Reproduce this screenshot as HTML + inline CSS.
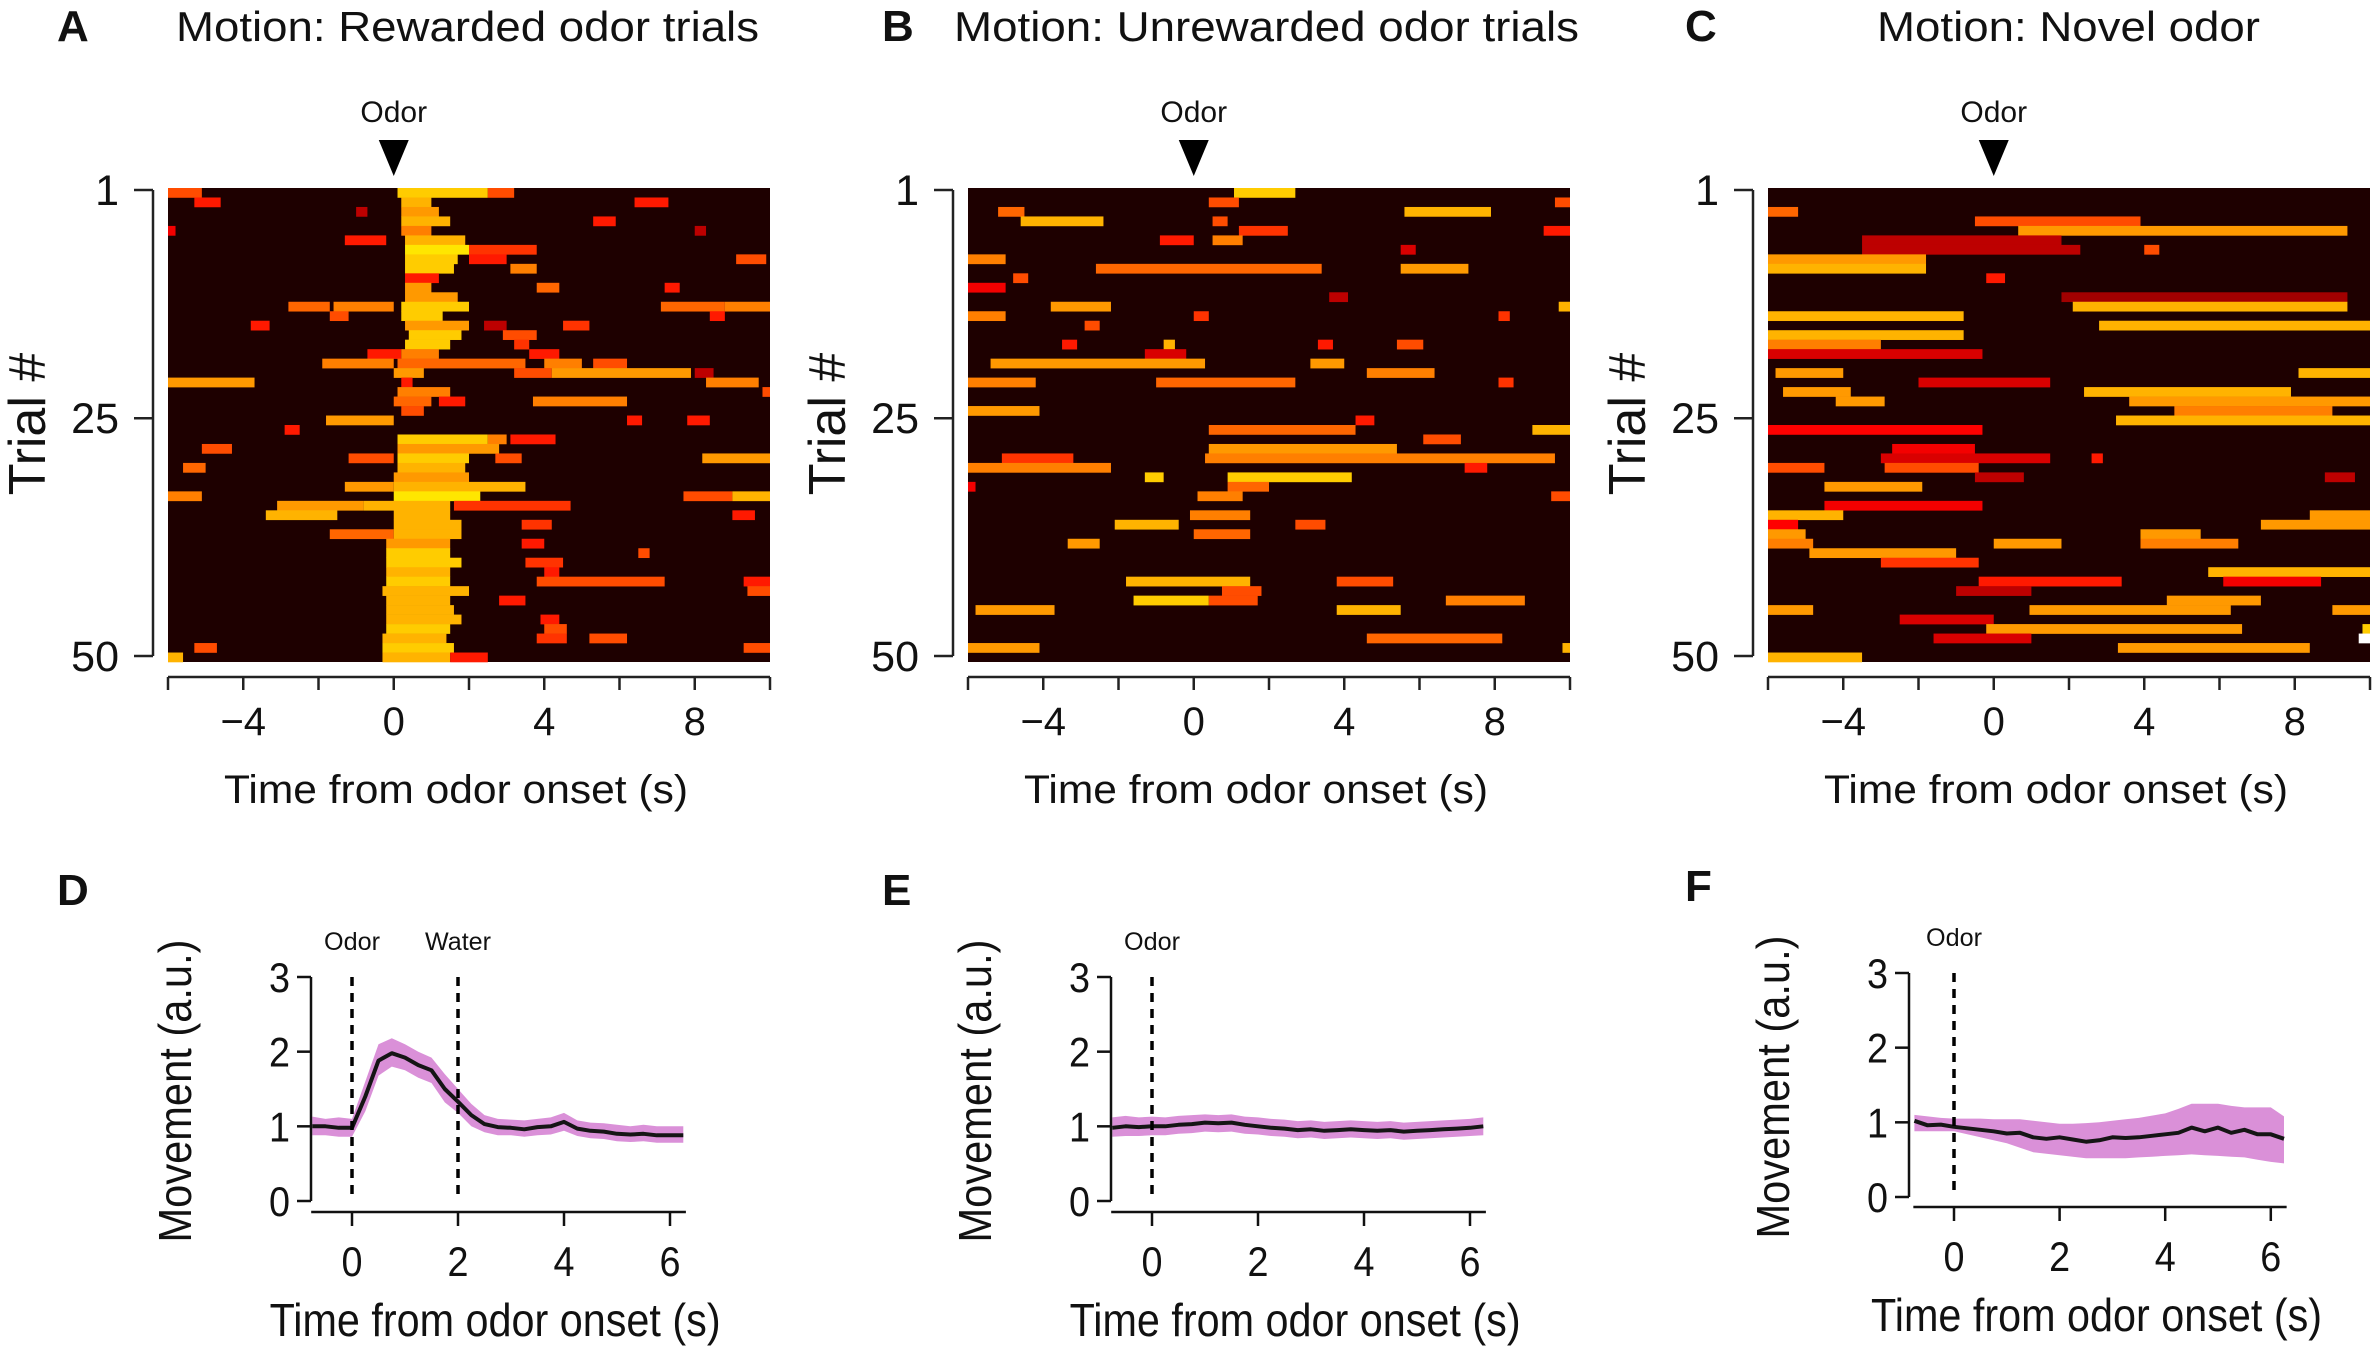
<!DOCTYPE html>
<html><head><meta charset="utf-8"><title>Motion figure</title>
<style>
html,body{margin:0;padding:0;background:#fff;}
svg{display:block;font-family:"Liberation Sans",Arial,sans-serif;}
</style></head>
<body>
<svg id="fig" width="2375" height="1348" viewBox="0 0 2375 1348" xmlns="http://www.w3.org/2000/svg">
<rect width="2375" height="1348" fill="#fff"/>
</svg>
<script>
// ===== Heatmap data: rows of [startTime, endTime, intensity] =====
const rowsA = [
[[-6,-5.1,.6],[0.1,2.5,.85],[2.5,3.2,.6]],
[[-5.3,-4.6,.5],[0.2,1,.8],[6.4,7.3,.5]],
[[-1,-0.7,.3],[0.2,1.2,.75]],
[[0.2,1.5,.8],[5.3,5.9,.5]],
[[-6,-5.8,.4],[0.2,1,.7],[8,8.3,.3]],
[[-1.3,-0.2,.5],[0.3,1.9,.8]],
[[0.3,2,.9],[2,3.8,.55]],
[[0.3,1.7,.85],[2,3,.5],[9.1,9.9,.6]],
[[0.3,1.6,.85],[3.1,3.8,.7]],
[[0.3,1.2,.5]],
[[0.3,1,.75],[3.8,4.4,.65],[7.2,7.6,.5]],
[[0.3,1.7,.75]],
[[-2.8,-1.7,.65],[-1.6,0,.7],[0.2,2,.85],[7.1,8.8,.65],[8.8,10,.7]],
[[-1.7,-1.2,.6],[0.2,1.3,.85],[8.4,8.8,.5]],
[[-3.8,-3.3,.5],[0.3,2,.75],[2.4,3,.3],[4.5,5.2,.55]],
[[0.4,1.8,.85],[2.9,3.8,.6]],
[[0.3,1.5,.85],[3.2,3.6,.55]],
[[-0.7,0.2,.5],[0.2,1.2,.7],[3.6,4.4,.5]],
[[-1.9,0,.7],[0.1,3.5,.65],[4,5,.7],[5.3,6.2,.6]],
[[0,0.8,.75],[3.2,4.2,.6],[4.2,7.9,.75],[8,8.5,.3]],
[[-6,-3.7,.75],[0.2,0.5,.5],[8.3,9.7,.7]],
[[0.1,1.5,.7],[9.8,10,.6]],
[[0,1,.65],[1.2,1.9,.5],[3.7,6.2,.7]],
[[0.2,0.8,.6]],
[[-1.8,0,.75],[6.2,6.6,.5],[7.8,8.4,.5]],
[[-2.9,-2.5,.5]],
[[0.1,2.5,.85],[2.5,3,.7],[3.1,4.3,.5]],
[[-5.1,-4.3,.6],[0.1,2.8,.75]],
[[-1.2,0,.6],[0.1,2,.85],[2.7,3.4,.6],[8.2,10,.75]],
[[-5.6,-5,.65],[0.1,1.9,.8]],
[[0,2,.75]],
[[-1.3,0,.75],[0,3.5,.8]],
[[-6,-5.1,.7],[0,2.3,.9],[7.7,9,.6],[9,10,.8]],
[[-3.1,-0.8,.75],[-0.8,1.5,.8],[1.6,4.7,.55]],
[[-3.4,-1.5,.8],[0,1.5,.8],[9,9.6,.5]],
[[0,1.8,.8],[3.4,4.2,.55]],
[[-1.7,0,.65],[0,1.8,.8]],
[[-0.2,1.5,.75],[3.4,4,.5]],
[[-0.2,1.5,.85],[6.5,6.8,.6]],
[[-0.2,1.8,.85],[3.5,4.5,.55]],
[[-0.2,1.5,.8],[4,4.4,.5]],
[[-0.2,1.5,.85],[3.8,7.2,.6],[9.3,10,.5]],
[[-0.3,2,.8],[9.4,10,.6]],
[[-0.2,1.5,.8],[2.8,3.5,.5]],
[[-0.2,1.6,.8]],
[[-0.2,1.8,.8],[3.9,4.4,.5]],
[[-0.2,1.5,.85],[4,4.6,.6]],
[[-0.3,1.4,.8],[3.8,4.6,.55],[5.2,6.2,.6]],
[[-5.3,-4.7,.6],[-0.3,1.6,.85],[9.3,10,.6]],
[[-6,-5.6,.8],[-0.3,1.5,.8],[1.5,2.5,.5]]
];
const rowsB = [
[[1.07,2.7,.85]],
[[0.4,1.2,.6],[9.6,10,.6]],
[[-5.2,-4.5,.65],[5.6,7.9,.8]],
[[-4.6,-2.4,.8],[0.5,0.9,.6]],
[[1.2,2.5,.55],[9.3,10,.5]],
[[-0.9,0,.5],[0.5,1.3,.7]],
[[5.5,5.9,.35]],
[[-6,-5,.7]],
[[-2.6,3.4,.65],[5.5,7.3,.75]],
[[-4.8,-4.4,.6]],
[[-6,-5,.4]],
[[3.6,4.1,.3]],
[[-3.8,-2.2,.75],[9.7,10,.8]],
[[-6,-5,.7],[0,0.4,.55],[8.1,8.4,.55]],
[[-2.9,-2.5,.6]],
[],
[[-3.5,-3.1,.5],[-0.8,-0.5,.8],[3.3,3.7,.5],[5.4,6.1,.6]],
[[-1.3,-0.2,.35]],
[[-5.4,0.3,.75],[3.1,4,.75]],
[[4.6,6.4,.7]],
[[-6,-4.2,.7],[-1,2.7,.65],[8.1,8.5,.55]],
[],
[],
[[-6,-4.1,.75]],
[[4.3,4.8,.5]],
[[0.4,4.3,.65],[9,10,.8]],
[[6.1,7.1,.6]],
[[0.4,5.4,.75]],
[[-5.1,-3.2,.55],[0.3,9.6,.7]],
[[-6,-2.2,.7],[7.2,7.8,.5]],
[[-1.3,-0.8,.85],[0.9,4.2,.85]],
[[-6,-5.8,.4],[0.9,2,.65]],
[[0.1,1.3,.7],[9.5,10,.6]],
[],
[[-0.1,1.5,.7]],
[[-2.1,-0.4,.8],[2.7,3.5,.6]],
[[0,1.5,.65]],
[[-3.35,-2.5,.75]],
[],
[],
[],
[[-1.8,1.5,.8],[3.8,5.3,.6]],
[[0.75,1.8,.6]],
[[-1.6,0.4,.85],[0.4,1.7,.6],[6.7,8.8,.7]],
[[-5.8,-3.7,.75],[3.8,5.5,.8]],
[],
[],
[[4.6,8.2,.65]],
[[-6,-4.1,.75],[9.8,10,.8]],
[]
];
const rowsC = [
[],
[],
[[-6,-5.2,.65]],
[[-0.5,3.9,.6]],
[[0.65,9.4,.75]],
[[-3.5,1.8,.3]],
[[-3.5,2.3,.3],[4,4.4,.6]],
[[-6,-1.8,.75]],
[[-6,-1.8,.8]],
[[-0.2,0.3,.5]],
[],
[[1.8,9.4,.25]],
[[2.1,9.4,.8]],
[[-6,-0.8,.8]],
[[2.8,10,.8]],
[[-6,-0.8,.8]],
[[-6,-3,.7]],
[[-6,-0.3,.35]],
[],
[[-5.8,-4,.75],[8.1,10,.8]],
[[-2,1.5,.35]],
[[-5.6,-3.8,.75],[2.4,7.9,.8]],
[[-4.2,-2.9,.75],[3.6,10,.75]],
[[4.8,9,.7]],
[[3.25,10,.8]],
[[-6,-0.3,.45]],
[],
[[-2.7,-0.5,.4]],
[[-3,1.5,.35],[2.6,2.9,.5]],
[[-6,-4.5,.6],[-2.9,-0.4,.6]],
[[-0.5,0.8,.3],[8.8,9.6,.3]],
[[-4.5,-1.9,.75]],
[],
[[-4.5,-0.3,.4]],
[[-6,-4,.8],[8.4,10,.75]],
[[-6,-5.2,.45],[7.1,10,.75]],
[[-6,-5,.75],[3.9,5.5,.75]],
[[-6,-4.8,.7],[0,1.8,.75],[3.9,6.5,.7]],
[[-4.9,-1,.75]],
[[-3,-0.4,.55]],
[[5.7,10,.8]],
[[-0.4,3.4,.5],[6.1,8.7,.4]],
[[-1,1,.3]],
[[4.6,7.1,.75]],
[[-6,-4.8,.75],[0.95,6.3,.75],[9,10,.75]],
[[-2.5,0,.35]],
[[-0.2,6.6,.75],[9.8,10,.85]],
[[-1.6,1,.35],[9.7,10,1.0]],
[[3.3,8.4,.75]],
[[-6,-3.5,.8]]
];
const heatTicksX = [-6,-4,-2,0,2,4,6,8,10];
const heatTickLabelsX = ["−4","0","4","8"];
const heatTickLabelVals = [-4,0,4,8];
const trialTicks = [1,25,50];

// ===== Line chart data (time grid -0.75..6.25 step 0.25) =====
const lineTimes = [-0.75,-0.5,-0.25,0,0.25,0.5,0.75,1,1.25,1.5,1.75,2,2.25,2.5,2.75,3,3.25,3.5,3.75,4,4.25,4.5,4.75,5,5.25,5.5,5.75,6,6.25];
const meanD = [1.0,1.0,0.98,0.98,1.4,1.88,1.98,1.92,1.82,1.75,1.5,1.33,1.15,1.03,0.99,0.98,0.96,0.99,1.0,1.06,0.97,0.94,0.93,0.9,0.89,0.9,0.88,0.88,0.88];
const upperD = [1.13,1.1,1.12,1.1,1.6,2.1,2.18,2.1,2.0,1.92,1.7,1.5,1.3,1.15,1.1,1.09,1.08,1.1,1.12,1.18,1.08,1.05,1.04,1.02,1.0,1.02,1.0,1.0,1.0];
const lowerD = [0.88,0.88,0.86,0.86,1.2,1.68,1.8,1.75,1.65,1.58,1.32,1.18,1.0,0.92,0.88,0.88,0.86,0.88,0.89,0.94,0.87,0.84,0.83,0.8,0.79,0.8,0.78,0.78,0.78];
const meanE = [0.98,1.0,0.99,1.0,1.0,1.02,1.03,1.05,1.04,1.05,1.02,1.0,0.98,0.97,0.95,0.96,0.94,0.95,0.96,0.95,0.94,0.95,0.93,0.94,0.95,0.96,0.97,0.98,1.0];
const upperE = [1.12,1.14,1.12,1.13,1.12,1.14,1.15,1.16,1.15,1.16,1.13,1.12,1.1,1.09,1.07,1.08,1.06,1.07,1.08,1.07,1.06,1.07,1.05,1.06,1.07,1.08,1.09,1.1,1.12];
const lowerE = [0.86,0.87,0.87,0.88,0.88,0.9,0.91,0.93,0.92,0.93,0.9,0.89,0.87,0.86,0.84,0.85,0.83,0.84,0.85,0.84,0.83,0.84,0.82,0.83,0.84,0.85,0.86,0.87,0.88];
const meanF = [1.02,0.96,0.97,0.94,0.92,0.9,0.88,0.85,0.86,0.8,0.78,0.8,0.77,0.74,0.76,0.8,0.79,0.8,0.82,0.84,0.86,0.93,0.88,0.93,0.86,0.9,0.84,0.84,0.78];
const upperF = [1.1,1.08,1.06,1.05,1.05,1.05,1.04,1.04,1.04,1.02,1.0,0.98,0.98,0.99,1.0,1.02,1.04,1.06,1.09,1.12,1.18,1.25,1.25,1.25,1.22,1.2,1.2,1.2,1.08];
const lowerF = [0.88,0.88,0.88,0.88,0.84,0.8,0.76,0.72,0.66,0.6,0.58,0.56,0.54,0.52,0.52,0.52,0.52,0.53,0.54,0.55,0.56,0.57,0.56,0.55,0.54,0.53,0.5,0.47,0.45];
const lineTicksX = [0,2,4,6];
const lineTicksY = [0,1,2,3];

// ===== drawing =====
const NS = "http://www.w3.org/2000/svg";
const svg = document.getElementById('fig');
function mk(tag, attrs, parent){
  const e = document.createElementNS(NS, tag);
  for (const k in attrs) e.setAttribute(k, attrs[k]);
  (parent||svg).appendChild(e);
  return e;
}
function hot(v){
  const c = x => Math.max(0, Math.min(1, x));
  const r = 0.1 + 0.9 * c(v/0.42), g = c((v-0.45)/0.5), b = c((v-0.92)/0.08);
  return `rgb(${Math.round(r*255)},${Math.round(g*255)},${Math.round(b*255)})`;
}
function txt(x, y, s, size, opts, name, parent){
  const t = mk('text', Object.assign({x:x, y:y, 'font-size':size, fill:'#111'}, opts||{}), parent);
  t.textContent = s;
  
  
  return t;
}

const heatPanels = [
  {dx:0, rows:rowsA, letter:'A', title:'Motion: Rewarded odor trials', tx:176, tw:583},
  {dx:800, rows:rowsB, letter:'B', title:'Motion: Unrewarded odor trials', tx:954, tw:625},
  {dx:1600, rows:rowsC, letter:'C', title:'Motion: Novel odor', tx:1877, tw:383}
];
heatPanels.forEach((p, pi) => {
  const g = mk('g', {});
  
  
  const X0 = 168 + p.dx, X1 = 770 + p.dx, Y0 = 188, Y1 = 662;
  const xs = t => X0 + (t + 6) / 16 * (X1 - X0);
  const rh = (Y1 - Y0) / 50;
  const ys = r => Y0 + (r - 1) * rh;
  const bg = mk('rect', {x:X0, y:Y0, width:X1-X0, height:Y1-Y0, fill:'#1e0000'}, g);
  
  
  p.rows.forEach((segs, ri) => {
    segs.forEach(s => {
      const r = mk('rect', {x:xs(s[0]), y:ys(ri+1), width:Math.max(1, xs(s[1])-xs(s[0])), height:rh+0.3, fill:hot(s[2])}, g);
      
      
    });
  });
  txt(57 + p.dx + (pi===1?25:pi===2?28:0), 41, p.letter, 44, {'font-weight':'bold'}, 'panel-letter-' + p.letter.toLowerCase(), g);
  txt(p.tx, 41, p.title, 42, {textLength:p.tw, lengthAdjust:'spacingAndGlyphs'}, 'panel-title', g);
  txt(xs(0), 122, 'Odor', 30, {'text-anchor':'middle'}, 'odor-label', g);
  const tri = mk('polygon', {points:`${xs(0)-15},140 ${xs(0)+15},140 ${xs(0)},176`, fill:'#000'}, g);
  
  
  const ya = mk('line', {x1:153+p.dx, y1:190, x2:153+p.dx, y2:656, stroke:'#222', 'stroke-width':2.5}, g);
  
  
  trialTicks.forEach(tv => {
    const yy = 190 + (tv - 1) / 49 * (656 - 190);
    const tk = mk('line', {x1:134+p.dx, y1:yy, x2:153+p.dx, y2:yy, stroke:'#222', 'stroke-width':2.5}, g);
    
    
    txt(119+p.dx, yy+15, String(tv), 43, {'text-anchor':'end'}, 'y-tick-label', g);
  });
  txt(0, 0, 'Trial #', 52, {'text-anchor':'middle', transform:`translate(${45+p.dx},424) rotate(-90)`}, 'y-axis-title', g);
  const xa = mk('line', {x1:X0, y1:677, x2:X1, y2:677, stroke:'#222', 'stroke-width':2.5}, g);
  
  
  heatTicksX.forEach(tv => {
    const tk = mk('line', {x1:xs(tv), y1:677, x2:xs(tv), y2:690, stroke:'#222', 'stroke-width':2.5}, g);
    
    
  });
  heatTickLabelVals.forEach((tv, i) => {
    txt(xs(tv), 735, heatTickLabelsX[i], 40, {'text-anchor':'middle'}, 'x-tick-label', g);
  });
  txt((224+688)/2 + p.dx, 803, 'Time from odor onset (s)', 40, {'text-anchor':'middle', textLength:464, lengthAdjust:'spacingAndGlyphs'}, 'x-axis-title', g);
});

const linePanels = [
  {letter:'D', ax:311, x0:352, pps:53, y3:977, y0:1201, xl:1212, mean:meanD, up:upperD, lo:lowerD, water:true, dy:0, lx:57},
  {letter:'E', ax:1111, x0:1152, pps:53, y3:977, y0:1201, xl:1212, mean:meanE, up:upperE, lo:lowerE, water:false, dy:0, lx:882},
  {letter:'F', ax:1909, x0:1954, pps:52.8, y3:973, y0:1197, xl:1207, mean:meanF, up:upperF, lo:lowerF, water:false, dy:-4, lx:1685}
];
linePanels.forEach(p => {
  const g = mk('g', {});
  
  
  const xs = t => p.x0 + t * p.pps;
  const ys = v => p.y0 - v / 3 * (p.y0 - p.y3);
  txt(p.lx, 905 + p.dy, p.letter, 44, {'font-weight':'bold'}, 'panel-letter-' + p.letter.toLowerCase(), g);
  let d = '';
  lineTimes.forEach((t, i) => { d += (i ? 'L' : 'M') + xs(t).toFixed(1) + ',' + ys(p.up[i]).toFixed(1); });
  for (let i = lineTimes.length - 1; i >= 0; i--) d += 'L' + xs(lineTimes[i]).toFixed(1) + ',' + ys(p.lo[i]).toFixed(1);
  const band = mk('path', {d:d + 'Z', fill:'#da90d8', stroke:'none'}, g);
  
  
  let dm = '';
  lineTimes.forEach((t, i) => { dm += (i ? 'L' : 'M') + xs(t).toFixed(1) + ',' + ys(p.mean[i]).toFixed(1); });
  const ml = mk('path', {d:dm, fill:'none', stroke:'#151515', 'stroke-width':4, 'stroke-linejoin':'round'}, g);
  
  
  const ev = [[0, 'Odor']];
  if (p.water) ev.push([2, 'Water']);
  ev.forEach(e => {
    const l = mk('line', {x1:xs(e[0]), y1:p.y3, x2:xs(e[0]), y2:p.y0, stroke:'#000', 'stroke-width':3.5, 'stroke-dasharray':'9,7'}, g);
    
    
    txt(xs(e[0]), p.y3 - 27, e[1], 25, {'text-anchor':'middle', textLength:e[1]==='Odor'?56:66, lengthAdjust:'spacingAndGlyphs'}, e[1].toLowerCase() + '-label', g);
  });
  const ya = mk('line', {x1:p.ax, y1:p.y3, x2:p.ax, y2:p.y0, stroke:'#111', 'stroke-width':2.5}, g);
  
  
  lineTicksY.forEach(v => {
    const tk = mk('line', {x1:p.ax-14, y1:ys(v), x2:p.ax, y2:ys(v), stroke:'#111', 'stroke-width':2.5}, g);
    
    
    txt(p.ax-21, ys(v)+15, String(v), 42, {'text-anchor':'end', textLength:21, lengthAdjust:'spacingAndGlyphs'}, 'y-tick-label', g);
  });
  txt(0, 0, 'Movement (a.u.)', 46, {'text-anchor':'middle', textLength:303, lengthAdjust:'spacingAndGlyphs', transform:`translate(${p.ax-120},${1091+p.dy}) rotate(-90)`}, 'y-axis-title', g);
  const xa = mk('line', {x1:xs(-0.77), y1:p.xl, x2:xs(6.3), y2:p.xl, stroke:'#111', 'stroke-width':2.5}, g);
  
  
  lineTicksX.forEach(v => {
    const tk = mk('line', {x1:xs(v), y1:p.xl, x2:xs(v), y2:p.xl+14, stroke:'#111', 'stroke-width':2.5}, g);
    
    
    txt(xs(v), p.xl+64, String(v), 42, {'text-anchor':'middle', textLength:21, lengthAdjust:'spacingAndGlyphs'}, 'x-tick-label', g);
  });
  txt(xs(2.7), p.xl+124, 'Time from odor onset (s)', 46, {'text-anchor':'middle', textLength:451, lengthAdjust:'spacingAndGlyphs'}, 'x-axis-title', g);
});
</script>
</body></html>
